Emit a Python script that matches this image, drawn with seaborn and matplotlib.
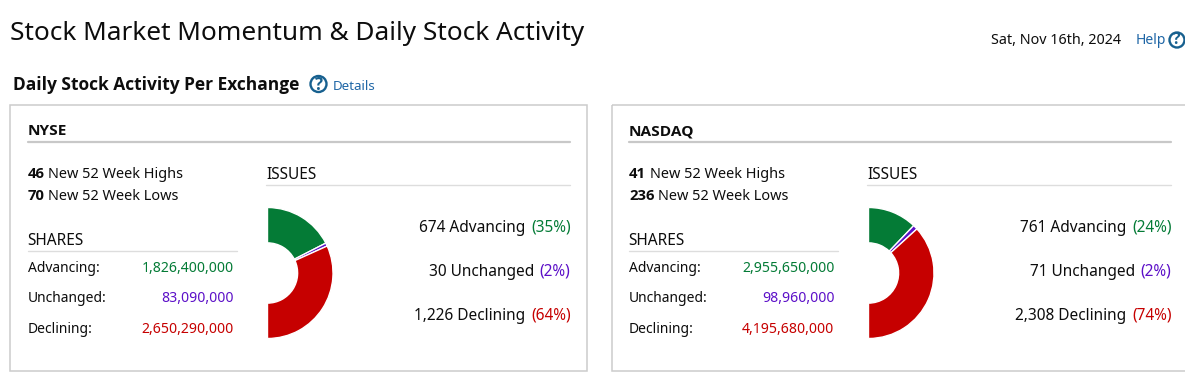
import matplotlib
matplotlib.use("Agg")
import matplotlib.pyplot as plt
from matplotlib.patches import Circle, Rectangle
import seaborn as sns

# values
exchanges = ["NYSE", "NASDAQ"]
new_highs = [46, 41]
new_lows = [70, 236]
share_labels = ["Advancing:", "Unchanged:", "Declining:"]
nyse_shares = [1826400000, 83090000, 2650290000]
nasdaq_shares = [2955650000, 98960000, 4195680000]
issue_labels = ["Advancing", "Unchanged", "Declining"]
nyse_issues = [674, 30, 1226]
nasdaq_issues = [761, 71, 2308]
nyse_pct = [35, 2, 64]
nasdaq_pct = [24, 2, 74]
colors = ["#047b36", "#5c10c8", "#c60000"]

sns.set_theme(style="white")
plt.rcParams["font.family"] = ["Noto Sans", "DejaVu Sans"]

fig = plt.figure(figsize=(11.85, 3.75), dpi=100)
# page axes in pixel coordinates
page = fig.add_axes([0, 0, 1, 1])
page.set_xlim(0, 1185)
page.set_ylim(375, 0)
page.axis("off")
renderer = fig.canvas.get_renderer()
INK = "#0d0d0d"
BLUE = "#1f66a6"


def txt(x, y, s, size=10.5, color=INK, ha="left", bold=False):
    # the Noto Sans here has no bold face, Open Sans Bold is the closest
    if bold:
        return page.text(x, y, s, fontsize=size, color=color, ha=ha, va="baseline",
                         family="Open Sans", fontweight="bold")
    return page.text(x, y, s, fontsize=size, color=color, ha=ha, va="baseline")


def width(t):
    return t.get_window_extent(renderer).width


def help_icon(x, y, r):
    page.add_patch(Circle((x, y), r, fill=False, ec="#17608f", lw=1.7, clip_on=False))
    page.text(x, y + 0.5, "?", fontsize=r * 1.5, color="#17608f", ha="center", va="center",
              family="Open Sans", fontweight="bold")


def panel(x0, box_x, name, highs, lows, shares, issues, pct):
    page.add_patch(Rectangle((box_x, 104.5), 577, 266.5, fill=False, ec="#cccccc", lw=1.1))
    txt(x0 + 18, 135, name, 11.1, bold=True)
    page.plot([x0 + 18, x0 + 560], [141.5, 141.5], color="#c8c8c8", lw=1.6)

    for y, n, s in [(177.5, highs, "New 52 Week Highs"), (199.5, lows, "New 52 Week Lows")]:
        t = txt(x0 + 18, y, str(n), 10.7, bold=True)
        txt(x0 + 18 + width(t) + 3.5, y, s, 10.45)

    txt(x0 + 17.7, 245, "SHARES", 11.1)
    page.plot([x0 + 18, x0 + 227], [250.5, 250.5], color="#dddddd", lw=1)
    for y, lab, v, c in zip([271.5, 302, 333], share_labels, shares, colors):
        txt(x0 + 18, y, lab, 10)
        txt(x0 + 223.5, y, f"{v:,}", 10.15, color=c, ha="right")

    txt(x0 + 256, 179, "ISSUES", 11.1)
    page.plot([x0 + 256, x0 + 560], [184.5, 184.5], color="#dddddd", lw=1)
    for y, lab, v, p, c in zip([231.5, 275.5, 319.5], issue_labels, issues, pct, colors):
        t = txt(x0 + 560.5, y, f"({p}%)", 11.1, color=c, ha="right")
        txt(x0 + 560.5 - width(t) - 5.5, y, f"{v:,} {lab}", 11.1, ha="right")

    # half donut: the hidden slice takes up the other half of the circle
    cx, cy, r = x0 + 257.5, 273, 65.5
    ax = fig.add_axes([(cx - r) / 1185, 1 - (cy + r) / 375, 2 * r / 1185, 2 * r / 375])
    wedges, _ = ax.pie(
        issues + [sum(issues)],
        colors=colors + ["none"],
        startangle=90,
        counterclock=False,
        radius=1,
        wedgeprops=dict(width=0.54, edgecolor="white", linewidth=1),
    )
    wedges[-1].set_visible(False)
    ax.set_xlim(-1, 1)
    ax.set_ylim(-1, 1)
    ax.patch.set_alpha(0)


txt(10, 40.5, "Stock Market Momentum & Daily Stock Activity", 18.85)
txt(991, 43.5, "Sat, Nov 16th, 2024", 10.3)
txt(1136, 44, "Help", 10, color=BLUE)
help_icon(1177, 40, 7.5)
txt(13, 90, "Daily Stock Activity Per Exchange", 12.55, bold=True)
help_icon(318.5, 84, 8)
txt(333, 90, "Details", 9.6, color=BLUE)

panel(10, 10, exchanges[0], new_highs[0], new_lows[0], nyse_shares, nyse_issues, nyse_pct)
panel(611, 612, exchanges[1], new_highs[1], new_lows[1], nasdaq_shares, nasdaq_issues, nasdaq_pct)

fig.savefig("out.png", dpi=100)
